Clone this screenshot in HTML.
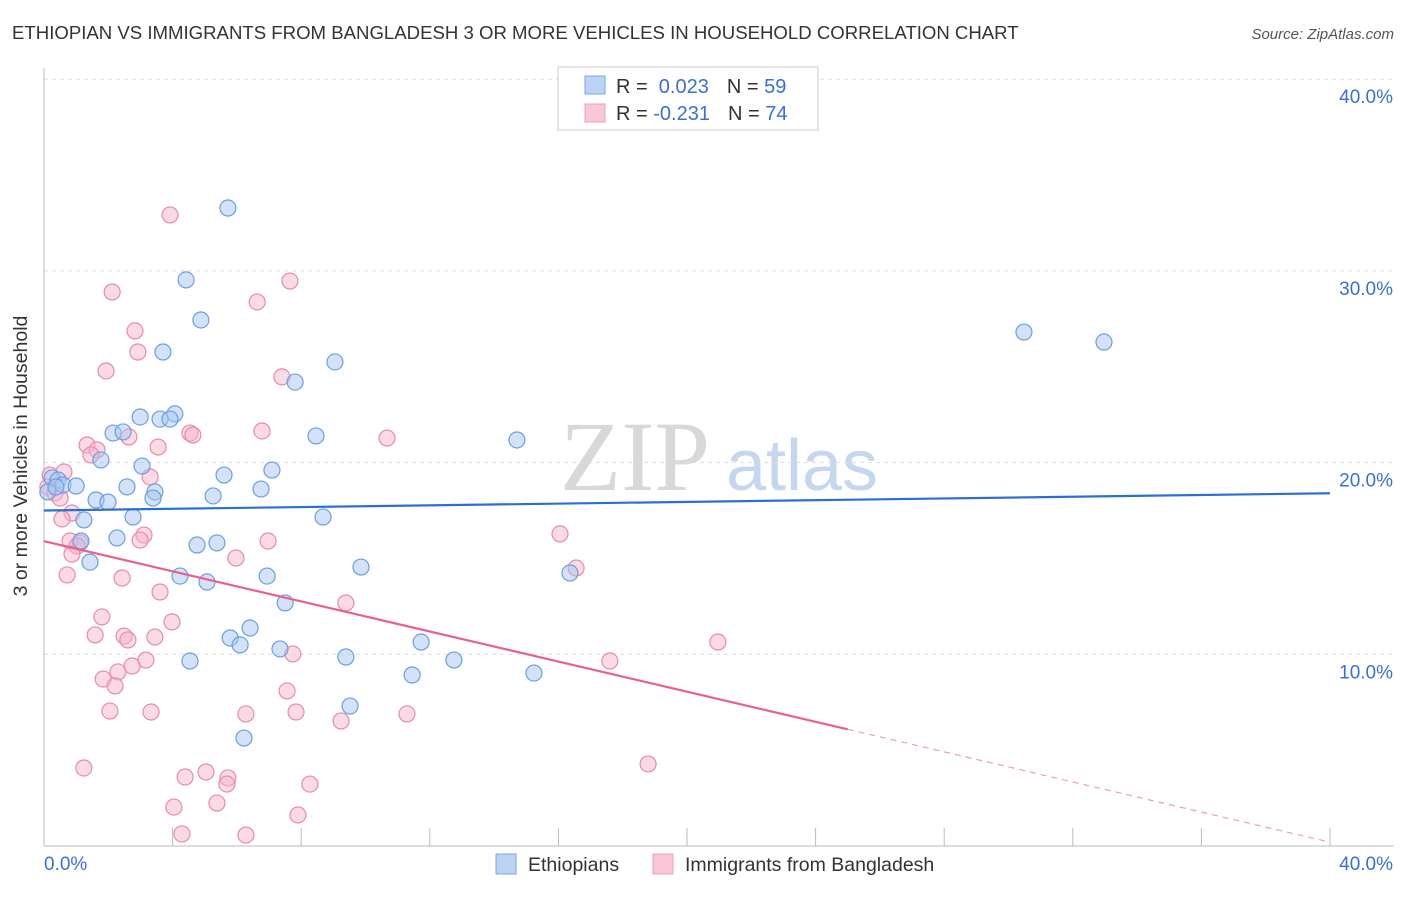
<!DOCTYPE html>
<html><head><meta charset="utf-8"><style>
body{margin:0;background:#fff;font-family:"Liberation Sans",sans-serif;}
svg text{font-family:"Liberation Sans",sans-serif;}
</style></head><body>
<svg id="chart" width="1406" height="892">
<text x="12" y="39" font-size="18.6" fill="#333">ETHIOPIAN VS IMMIGRANTS FROM BANGLADESH 3 OR MORE VEHICLES IN HOUSEHOLD CORRELATION CHART</text>
<text x="1394" y="39" font-size="15" fill="#555" font-style="italic" text-anchor="end">Source: ZipAtlas.com</text>
<g>
<text x="635" y="490" font-size="100" fill="#d8d8d8" text-anchor="middle" font-family="Liberation Serif,serif" style="font-family:'Liberation Serif',serif">ZIP</text>
<text x="802" y="490" font-size="72" fill="#c5d7ee" text-anchor="middle">atlas</text>
</g>
<g id="grid"></g>
<g id="axes"></g>
<g id="points"></g>
<g id="lines"></g>
<text x="27" y="456" font-size="19.5" fill="#333" text-anchor="middle" transform="rotate(-90 27 456)">3 or more Vehicles in Household</text>
<g>
<rect x="558" y="67" width="260" height="63" fill="#fff" stroke="#ccc"/>
<rect x="585" y="76" width="20" height="18" fill="#bcd4f4" stroke="#7aa6e0"/>
<rect x="585" y="104" width="20" height="18" fill="#f8c8d8" stroke="#eaa0ba"/>
<text x="616" y="93" font-size="20" fill="#333">R = <tspan fill="#3a70d0">&#160;0.023</tspan><tspan dx="18">N = </tspan><tspan fill="#3a70d0">59</tspan></text>
<text x="616" y="120" font-size="20" fill="#333">R = <tspan fill="#3a70d0">-0.231</tspan><tspan dx="18">N = </tspan><tspan fill="#3a70d0">74</tspan></text>
</g>
<g>
<rect x="496" y="854" width="20" height="20" fill="#bcd4f4" stroke="#7aa6e0"/>
<text x="528" y="871" font-size="19.5" fill="#333">Ethiopians</text>
<rect x="653" y="854" width="20" height="20" fill="#f8c8d8" stroke="#eaa0ba"/>
<text x="685" y="871" font-size="19.5" fill="#333">Immigrants from Bangladesh</text>
</g>
</svg>
<script>
const blueX=[5.72,4.42,4.88,3.70,9.05,7.81,30.48,32.97,2.99,4.07,3.61,3.92,2.15,2.46,8.46,14.71,1.77,3.05,7.09,5.60,0.25,0.44,0.59,1.00,2.58,3.45,3.39,1.62,1.99,5.26,6.75,0.12,0.37,1.24,2.77,8.68,2.27,1.15,4.76,5.38,1.43,9.86,16.36,4.23,6.94,5.07,7.50,6.41,11.73,5.79,6.10,7.34,12.75,9.39,4.54,15.24,11.45,9.52,6.22];
const blueY=[33.28,29.53,27.44,25.77,25.25,24.20,26.81,26.29,22.38,22.54,22.27,22.27,21.54,21.60,21.39,21.18,20.14,19.82,19.61,19.35,19.20,19.09,18.83,18.78,18.73,18.47,18.15,18.05,17.94,18.26,18.62,18.47,18.73,17.01,17.16,17.16,16.07,15.91,15.70,15.81,14.81,14.55,14.24,14.08,14.08,13.77,12.68,11.37,10.64,10.85,10.49,10.28,9.70,9.86,9.65,9.02,8.92,7.30,5.63];
const pinkX=[3.92,7.65,2.12,6.63,2.83,2.92,1.93,7.40,4.54,4.63,6.78,10.67,2.64,1.34,3.55,1.65,1.46,0.62,3.30,0.19,0.12,0.34,0.50,0.87,0.56,16.05,3.11,2.99,6.97,1.12,0.81,1.03,0.87,5.97,16.55,0.72,2.43,3.61,9.39,1.80,3.98,1.59,2.49,2.61,3.45,7.74,20.96,3.17,17.60,2.30,2.74,1.84,2.21,7.56,2.05,3.33,6.28,7.84,11.29,9.24,1.24,18.79,5.04,4.39,5.72,5.69,8.27,5.38,4.04,7.90,4.29,6.28];
const pinkY=[32.92,29.47,28.90,28.38,26.87,25.77,24.78,24.47,21.54,21.44,21.65,21.28,21.34,20.92,20.81,20.66,20.40,19.51,19.25,19.35,18.73,18.41,18.15,17.37,17.06,16.28,16.22,15.96,15.91,15.81,15.91,15.65,15.23,15.02,14.50,14.14,13.98,13.25,12.68,11.95,11.69,11.01,10.95,10.75,10.90,10.02,10.64,9.70,9.65,9.08,9.39,8.71,8.35,8.09,7.04,6.99,6.89,6.99,6.89,6.52,4.07,4.28,3.86,3.60,3.55,3.23,3.23,2.24,2.03,1.62,0.63,0.57];
const blueTrend=[17.5,18.4];
const pinkTrend=[15.9,0.2];
const pinkSolidEnd=25.0;
const yTicks=[10,20,30,40];
const xTickCount=10;
const NS="http://www.w3.org/2000/svg";
const X=v=>44+(v/40)*1286;
const Y=v=>846-(v/10)*191.7;
function mk(tag,attrs,parent){const e=document.createElementNS(NS,tag);for(const k in attrs)e.setAttribute(k,attrs[k]);document.getElementById(parent).appendChild(e);return e;}
yTicks.forEach(t=>{
 const g=mk('line',{x1:44,x2:1394,y1:Y(t),y2:Y(t),stroke:'#ddd','stroke-dasharray':'4,4'},'grid');
 
 
 const tx=mk('text',{x:1393,y:Y(t)+24,'font-size':19,fill:'#3a70d0','text-anchor':'end'},'axes');
 tx.textContent=t.toFixed(1)+'%';
 
 
});
const ax=mk('line',{x1:44,x2:44,y1:68,y2:846,stroke:'#bbb'},'axes');


const bx=mk('line',{x1:44,x2:1394,y1:846,y2:846,stroke:'#bbb'},'axes');


for(let i=1;i<=xTickCount;i++){
 const t=mk('line',{x1:X(i*4),x2:X(i*4),y1:828,y2:846,stroke:'#bbb'},'axes');
 
 
}
const l0=mk('text',{x:44,y:870,'font-size':19,fill:'#3a70d0'},'axes');l0.textContent='0.0%';


const l1=mk('text',{x:1393,y:870,'font-size':19,fill:'#3a70d0','text-anchor':'end'},'axes');l1.textContent='40.0%';


function pts(xs,ys,fill,stroke,name){xs.forEach((x,i)=>{
 const c=mk('circle',{cx:X(x),cy:Y(ys[i]),r:8,fill:fill,'fill-opacity':0.5,stroke:stroke,'stroke-width':1.2},'points');
 
 
});}
pts(pinkX,pinkY,'#f6b6cc','#e88aab','bangladesh-point');
pts(blueX,blueY,'#a8c6f0','#6a9fe0','ethiopians-point');
const bl=mk('line',{x1:X(0),y1:Y(blueTrend[0]),x2:X(40),y2:Y(blueTrend[1]),stroke:'#2a6fd6','stroke-width':2.2},'lines');


const py=v=>pinkTrend[0]+(pinkTrend[1]-pinkTrend[0])*v/40;
const pl=mk('line',{x1:X(0),y1:Y(pinkTrend[0]),x2:X(pinkSolidEnd),y2:Y(py(pinkSolidEnd)),stroke:'#e8608e','stroke-width':2.2},'lines');


const pd=mk('line',{x1:X(pinkSolidEnd),y1:Y(py(pinkSolidEnd)),x2:X(40),y2:Y(pinkTrend[1]),stroke:'#e8a0b8','stroke-width':1.2,'stroke-dasharray':'6,5'},'lines');


</script>
</body></html>
